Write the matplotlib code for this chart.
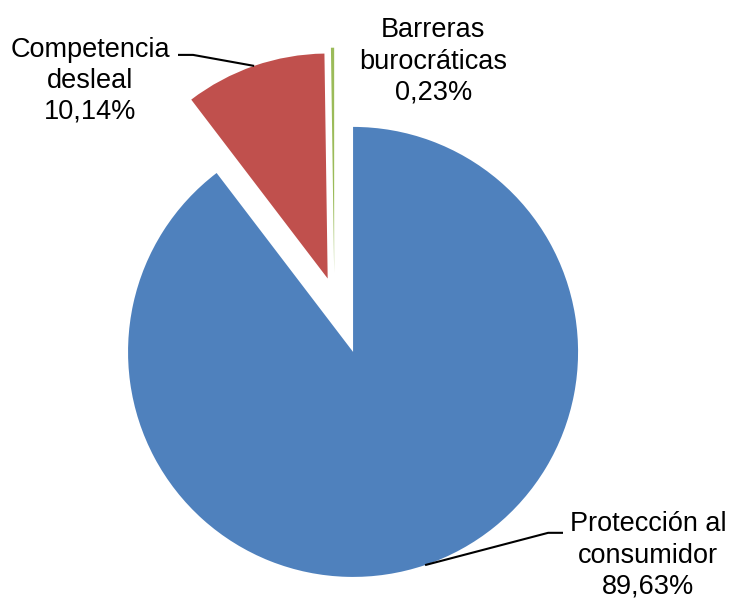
import numpy as np
import matplotlib.pyplot as plt

labels = ['Protección al\nconsumidor', 'Competencia\ndesleal', 'Barreras\nburocráticas']
values = [89.63, 10.14, 0.23]
colors = ['#4F81BD', '#C0504D', '#9BBB59']
explode = [0, 0.345, 0.345]

plt.rcParams['font.family'] = ['Liberation Sans', 'DejaVu Sans']

fig = plt.figure(figsize=(7.32, 6.01), dpi=100)
ax = fig.add_axes([0, 0, 1, 1])

wedges, _ = ax.pie(values, colors=colors, explode=explode, startangle=90,
                   counterclock=False, radius=1.0,
                   wedgeprops=dict(linewidth=0))
# the thin slice sits a bit further left than a plain explode would put it
wedges[2].set_center((-0.084, 0.352))

# pie() resets the limits, so set them afterwards
ax.set_xlim(-1.569, 1.684)
ax.set_ylim(-1.107, 1.564)
ax.set_aspect('equal')
ax.axis('off')

def pct(v):
    return ('%.2f%%' % v).replace('.', ',')

# label text positions (data units) and knee/stub points for leader lines
text_pos = [(1.311, -0.905), (-1.169, 1.205), (0.356, 1.29)]
knees = [((0.867, -0.804), (0.933, -0.804)), ((-0.711, 1.32), (-0.778, 1.32)), None]

for w, lab, v, tp, kn in zip(wedges, labels, values, text_pos, knees):
    ax.text(tp[0], tp[1], lab + '\n' + pct(v), ha='center', va='center',
            fontsize=19.5, linespacing=1.26, color='black')
    if kn is None:
        continue
    mid = np.deg2rad((w.theta1 + w.theta2) / 2)
    cx, cy = w.center
    px, py = cx + w.r * np.cos(mid), cy + w.r * np.sin(mid)
    ax.plot([px, kn[0][0], kn[1][0]], [py, kn[0][1], kn[1][1]],
            color='black', linewidth=1.5, solid_capstyle='butt')

fig.savefig('out.png', dpi=100)
